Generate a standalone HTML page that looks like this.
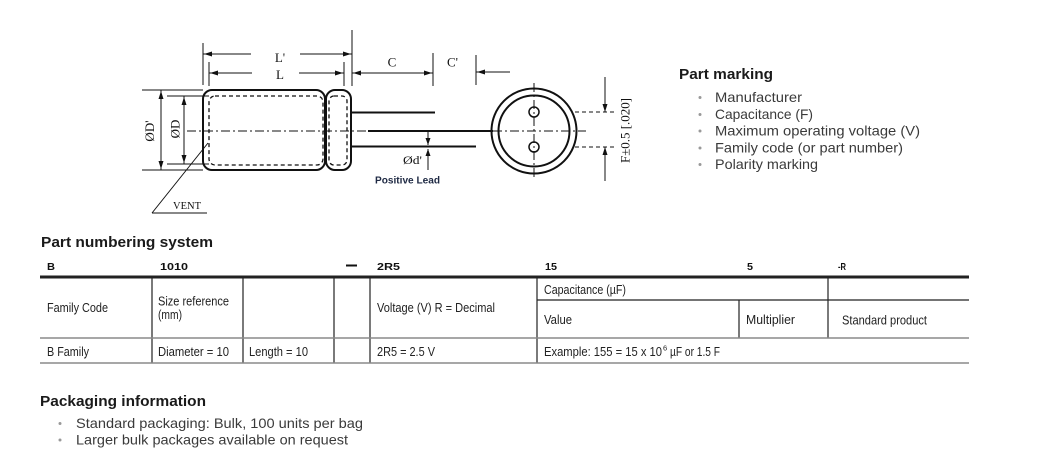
<!DOCTYPE html>
<html>
<head>
<meta charset="utf-8">
<style>
  html,body{margin:0;padding:0;background:#fff;}
  body{width:1051px;height:464px;overflow:hidden;}
  svg{display:block;}
  .serif{font-family:"Liberation Serif",serif;fill:#111;}
  .sans{font-family:"Liberation Sans",sans-serif;}
  .h{font-family:"Liberation Sans",sans-serif;font-weight:bold;font-size:15px;fill:#1a1a1a;}
  .li{font-family:"Liberation Sans",sans-serif;font-size:14px;fill:#3a3a3a;}
  .th{font-family:"Liberation Sans",sans-serif;font-weight:bold;font-size:10.5px;fill:#111;}
  .td{font-family:"Liberation Sans",sans-serif;font-size:13px;fill:#222;}
</style>
</head>
<body>
<svg width="1051" height="464" viewBox="0 0 1051 464" xmlns="http://www.w3.org/2000/svg">
  <!-- ================= DRAWING ================= -->
  <g stroke="#111" fill="none">
    <rect x="203" y="90" width="122" height="80" rx="9" stroke-width="2"/>
    <rect x="326" y="90" width="25" height="80" rx="9" stroke-width="2"/>
    <rect x="209" y="96" width="114" height="69" rx="6" stroke-width="1.3" stroke-dasharray="4 3"/>
    <rect x="329" y="96" width="18" height="69" rx="5" stroke-width="1.3" stroke-dasharray="4 3"/>
    <line x1="187" y1="131" x2="368" y2="131" stroke-width="1" stroke-dasharray="9 3 2 3"/>
    <line x1="351" y1="112.5" x2="435" y2="112.5" stroke-width="2"/>
    <line x1="368" y1="131" x2="493" y2="131" stroke-width="2"/>
    <line x1="351" y1="146.5" x2="476" y2="146.5" stroke-width="2"/>

    <line x1="203" y1="43" x2="203" y2="85" stroke-width="1"/>
    <line x1="209" y1="62" x2="209" y2="86" stroke-width="1"/>
    <line x1="344" y1="62" x2="344" y2="86" stroke-width="1"/>
    <line x1="352" y1="30" x2="352" y2="86" stroke-width="1"/>
    <line x1="433" y1="53" x2="433" y2="86" stroke-width="1"/>
    <line x1="476" y1="55" x2="476" y2="85" stroke-width="1"/>
    <line x1="203" y1="54" x2="251" y2="54" stroke-width="1"/>
    <line x1="300" y1="54" x2="352" y2="54" stroke-width="1"/>
    <line x1="209" y1="73" x2="252" y2="73" stroke-width="1"/>
    <line x1="299" y1="73" x2="344" y2="73" stroke-width="1"/>
    <line x1="352" y1="73" x2="433" y2="73" stroke-width="1"/>
    <line x1="476" y1="72" x2="510" y2="72" stroke-width="1"/>

    <line x1="142" y1="90" x2="203" y2="90" stroke-width="1"/>
    <line x1="142" y1="170" x2="203" y2="170" stroke-width="1"/>
    <line x1="167" y1="96" x2="209" y2="96" stroke-width="1"/>
    <line x1="167" y1="164" x2="209" y2="164" stroke-width="1"/>
    <line x1="161" y1="90" x2="161" y2="170" stroke-width="1"/>
    <line x1="184" y1="96" x2="184" y2="164" stroke-width="1"/>

    <line x1="428" y1="132" x2="428" y2="145" stroke-width="1"/>
    <line x1="428" y1="149" x2="428" y2="170" stroke-width="1"/>

    <line x1="208" y1="143" x2="152" y2="213" stroke-width="1"/>
    <line x1="152" y1="213" x2="207" y2="213" stroke-width="1"/>

    <circle cx="534" cy="131" r="42.5" stroke-width="2"/>
    <circle cx="534" cy="131" r="35.5" stroke-width="2"/>
    <circle cx="534" cy="112" r="5" stroke-width="1.5"/>
    <circle cx="534" cy="147" r="5" stroke-width="1.5"/>
    <line x1="534" y1="83" x2="534" y2="178" stroke-width="1" stroke-dasharray="9 3 2 3"/>
    <line x1="493" y1="131" x2="586" y2="131" stroke-width="1" stroke-dasharray="9 3 2 3"/>
    <line x1="575" y1="112" x2="617" y2="112" stroke-width="1" stroke-dasharray="4 3"/>
    <line x1="575" y1="147" x2="617" y2="147" stroke-width="1" stroke-dasharray="4 3"/>
    <line x1="605" y1="77" x2="605" y2="112" stroke-width="1"/>
    <line x1="605" y1="147" x2="605" y2="181" stroke-width="1"/>
  </g>

  <g fill="#111" stroke="none">
    <polygon points="204,54 212,51.5 212,56.5"/>
    <polygon points="351,54 343,51.5 343,56.5"/>
    <polygon points="210,73 218,70.5 218,75.5"/>
    <polygon points="343,73 335,70.5 335,75.5"/>
    <polygon points="353,73 361,70.5 361,75.5"/>
    <polygon points="432,73 424,70.5 424,75.5"/>
    <polygon points="477,72 485,69.5 485,74.5"/>
    <polygon points="161,91 158.5,99 163.5,99"/>
    <polygon points="161,169 158.5,161 163.5,161"/>
    <polygon points="184,97 181.5,105 186.5,105"/>
    <polygon points="184,163 181.5,155 186.5,155"/>
    <polygon points="428,145 425.5,138 430.5,138"/>
    <polygon points="428,149 425.5,156 430.5,156"/>
    <polygon points="605,112 602.5,104 607.5,104"/>
    <polygon points="605,147 602.5,155 607.5,155"/>
  </g>

  <text class="serif" x="280" y="62" font-size="13" text-anchor="middle">L'</text>
  <text class="serif" x="280" y="79" font-size="13" text-anchor="middle">L</text>
  <text class="serif" x="392" y="66.5" font-size="13" text-anchor="middle">C</text>
  <text class="serif" x="452.5" y="66.5" font-size="13" text-anchor="middle">C'</text>
  <text class="serif" font-size="13" text-anchor="middle" transform="translate(154,131) rotate(-90)">ØD'</text>
  <text class="serif" font-size="13" text-anchor="middle" transform="translate(179.5,129) rotate(-90)">ØD</text>
  <text class="serif" x="403" y="164" font-size="12" textLength="19" lengthAdjust="spacingAndGlyphs">Ød'</text>
  <text class="serif" x="173" y="209" font-size="10" textLength="28" lengthAdjust="spacingAndGlyphs">VENT</text>
  <text class="serif" font-size="13" text-anchor="middle" transform="translate(629.5,130.5) rotate(-90)" textLength="65" lengthAdjust="spacingAndGlyphs">F±0.5 [.020]</text>
  <text class="sans" x="375" y="183.5" font-size="10" font-weight="bold" fill="#1f2a44" textLength="65" lengthAdjust="spacingAndGlyphs">Positive Lead</text>

  <!-- ================= PART MARKING ================= -->
  <text class="h" x="679" y="79" textLength="94" lengthAdjust="spacingAndGlyphs">Part marking</text>
  <g fill="#999">
    <circle cx="700" cy="97.5" r="1.5"/>
    <circle cx="700" cy="114.5" r="1.5"/>
    <circle cx="700" cy="131" r="1.5"/>
    <circle cx="700" cy="148" r="1.5"/>
    <circle cx="700" cy="164.5" r="1.5"/>
  </g>
  <text class="li" x="715" y="102" textLength="87" lengthAdjust="spacingAndGlyphs">Manufacturer</text>
  <text class="li" x="715" y="119" textLength="98" lengthAdjust="spacingAndGlyphs">Capacitance (F)</text>
  <text class="li" x="715" y="135.5" textLength="205" lengthAdjust="spacingAndGlyphs">Maximum operating voltage (V)</text>
  <text class="li" x="715" y="152.5" textLength="188" lengthAdjust="spacingAndGlyphs">Family code (or part number)</text>
  <text class="li" x="715" y="169" textLength="103" lengthAdjust="spacingAndGlyphs">Polarity marking</text>

  <!-- ================= PART NUMBERING ================= -->
  <text class="h" x="41" y="247" textLength="172" lengthAdjust="spacingAndGlyphs">Part numbering system</text>

  <text class="th" x="47" y="270" textLength="8" lengthAdjust="spacingAndGlyphs">B</text>
  <text class="th" x="160" y="270" textLength="28" lengthAdjust="spacingAndGlyphs">1010</text>
  <rect x="346" y="264.5" width="11" height="2" fill="#111"/>
  <text class="th" x="377" y="270" textLength="23" lengthAdjust="spacingAndGlyphs">2R5</text>
  <text class="th" x="545" y="270" textLength="12" lengthAdjust="spacingAndGlyphs">15</text>
  <text class="th" x="747" y="270" textLength="6" lengthAdjust="spacingAndGlyphs">5</text>
  <text class="th" x="838" y="270" textLength="8" lengthAdjust="spacingAndGlyphs">-R</text>

  <rect x="40" y="275.5" width="929" height="3" fill="#222"/>
  <g stroke="#222" stroke-width="1.2">
    <line x1="152" y1="278" x2="152" y2="363"/>
    <line x1="243" y1="278" x2="243" y2="363"/>
    <line x1="334" y1="278" x2="334" y2="363"/>
    <line x1="370" y1="278" x2="370" y2="363"/>
    <line x1="537" y1="278" x2="537" y2="363"/>
    <line x1="739" y1="300" x2="739" y2="338"/>
    <line x1="828" y1="278" x2="828" y2="338"/>
    <line x1="537" y1="300" x2="969" y2="300"/>
  </g>
  <g stroke="#8a8a8a" stroke-width="1.5">
    <line x1="40" y1="338" x2="969" y2="338"/>
    <line x1="40" y1="363" x2="969" y2="363"/>
  </g>

  <text class="td" x="47" y="312" textLength="61" lengthAdjust="spacingAndGlyphs">Family Code</text>
  <text class="td" x="158" y="305.5" textLength="71" lengthAdjust="spacingAndGlyphs">Size reference</text>
  <text class="td" x="158" y="319" textLength="24" lengthAdjust="spacingAndGlyphs">(mm)</text>
  <text class="td" x="377" y="312" textLength="118" lengthAdjust="spacingAndGlyphs">Voltage (V) R = Decimal</text>
  <text class="td" x="544" y="294" textLength="82" lengthAdjust="spacingAndGlyphs">Capacitance (µF)</text>
  <text class="td" x="544" y="324" textLength="28" lengthAdjust="spacingAndGlyphs">Value</text>
  <text class="td" x="746" y="324" textLength="49" lengthAdjust="spacingAndGlyphs">Multiplier</text>
  <text class="td" x="842" y="324.5" textLength="85" lengthAdjust="spacingAndGlyphs">Standard product</text>

  <text class="td" x="47" y="356" textLength="42" lengthAdjust="spacingAndGlyphs">B Family</text>
  <text class="td" x="158" y="356" textLength="71" lengthAdjust="spacingAndGlyphs">Diameter = 10</text>
  <text class="td" x="249" y="356" textLength="59" lengthAdjust="spacingAndGlyphs">Length = 10</text>
  <text class="td" x="377" y="356" textLength="58" lengthAdjust="spacingAndGlyphs">2R5 = 2.5 V</text>
  <text class="td" x="544" y="356" textLength="118" lengthAdjust="spacingAndGlyphs">Example: 155 = 15 x 10</text>
  <text x="663" y="350.5" style="font-family:'Liberation Sans',sans-serif;font-size:7.5px;fill:#222;">6</text>
  <text class="td" x="670" y="356" textLength="50" lengthAdjust="spacingAndGlyphs">µF or 1.5 F</text>

  <!-- ================= PACKAGING ================= -->
  <text class="h" x="40" y="406" textLength="166" lengthAdjust="spacingAndGlyphs">Packaging information</text>
  <g fill="#999">
    <circle cx="60" cy="423.5" r="1.5"/>
    <circle cx="60" cy="440" r="1.5"/>
  </g>
  <text class="li" x="76" y="428" textLength="287" lengthAdjust="spacingAndGlyphs">Standard packaging: Bulk, 100 units per bag</text>
  <text class="li" x="76" y="444.5" textLength="272" lengthAdjust="spacingAndGlyphs">Larger bulk packages available on request</text>
</svg>
</body>
</html>
